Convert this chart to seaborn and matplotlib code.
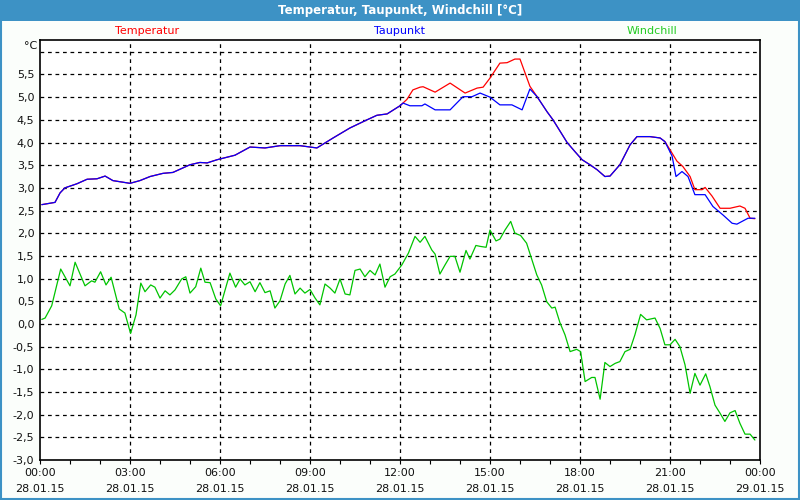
import matplotlib
matplotlib.use("Agg")
import matplotlib.pyplot as plt
import numpy as np
import pandas as pd
import seaborn as sns
from matplotlib.patches import Rectangle

sns.set_theme(style="white")
plt.rcParams['font.family'] = ['DejaVu Sans']

# hours since 28.01.15 00:00
temp_hours = [0.06, 0.5, 0.67, 0.83, 1.23, 1.57, 1.9, 2.17, 2.43, 3.0, 3.33, 3.67, 4.1, 4.43,
              5.0, 5.33, 5.57, 5.9, 6.5, 7.0, 7.5, 8.0, 8.67, 9.23, 9.77, 10.33, 10.9, 11.23,
              11.57, 12.0, 12.1, 12.23, 12.43, 12.67, 12.77, 13.17, 13.67, 14.17, 14.57, 14.77,
              15.0, 15.33, 15.57, 15.83, 16.0, 16.33, 16.57, 16.9, 17.1, 17.57, 17.83, 18.07,
              18.33, 18.57, 18.83, 19.0, 19.33, 19.67, 19.9, 20.33, 20.67, 20.83, 21.0, 21.23,
              21.43, 21.67, 21.83, 22.07, 22.17, 22.4, 22.67, 23.0, 23.33, 23.5, 23.67, 23.83]
temperatur = [2.63, 2.68, 2.89, 3.0, 3.09, 3.19, 3.2, 3.26, 3.16, 3.10, 3.16, 3.25, 3.32, 3.34,
              3.51, 3.56, 3.55, 3.62, 3.72, 3.90, 3.88, 3.93, 3.93, 3.88, 4.10, 4.32, 4.50, 4.60,
              4.63, 4.81, 4.87, 4.95, 5.16, 5.22, 5.23, 5.11, 5.31, 5.09, 5.20, 5.22,
              5.42, 5.75, 5.76, 5.84, 5.84, 5.24, 5.01, 4.68, 4.50, 4.00, 3.80, 3.62,
              3.51, 3.40, 3.25, 3.26, 3.51, 3.95, 4.13, 4.13, 4.10, 4.02, 3.84, 3.59,
              3.47, 3.25, 2.96, 2.96, 3.01, 2.82, 2.55, 2.55, 2.60, 2.55, 2.33, 2.32]

dew_hours = [0.06, 0.5, 0.67, 0.83, 1.23, 1.57, 1.9, 2.17, 2.43, 3.0, 3.33, 3.67, 4.1, 4.43,
             5.0, 5.33, 5.57, 5.9, 6.5, 7.0, 7.5, 8.0, 8.67, 9.23, 9.77, 10.33, 10.9, 11.23,
             11.57, 12.0, 12.1, 12.33, 12.73, 12.83, 13.17, 13.67, 14.1, 14.4, 14.67, 15.0,
             15.33, 15.73, 16.07, 16.33, 16.57, 16.9, 17.1, 17.57, 17.83, 18.07, 18.33, 18.57,
             18.83, 19.0, 19.33, 19.67, 19.9, 20.33, 20.67, 20.83, 21.07, 21.2, 21.4, 21.6,
             21.83, 22.17, 22.43, 22.77, 23.07, 23.23, 23.4, 23.6, 23.83]
taupunkt = [2.63, 2.68, 2.89, 3.0, 3.09, 3.19, 3.2, 3.26, 3.16, 3.10, 3.16, 3.25, 3.32, 3.34,
            3.51, 3.56, 3.55, 3.62, 3.72, 3.90, 3.88, 3.93, 3.93, 3.88, 4.10, 4.32, 4.50, 4.60,
            4.63, 4.81, 4.87, 4.81, 4.81, 4.85, 4.72, 4.72, 5.01, 5.01, 5.09, 5.00,
            4.83, 4.83, 4.72, 5.18, 5.01, 4.68, 4.50, 4.00, 3.80, 3.62, 3.51, 3.40,
            3.25, 3.26, 3.51, 3.95, 4.13, 4.13, 4.10, 4.02, 3.70, 3.25, 3.36, 3.25,
            2.85, 2.85, 2.59, 2.40, 2.22, 2.20, 2.26, 2.33, 2.33]

wind_hours = [0.06, 0.17, 0.39, 0.69, 1.0, 1.17, 1.5, 1.72, 1.83, 2.02, 2.2, 2.37, 2.64, 2.83,
              3.02, 3.2, 3.36, 3.5, 3.69, 3.83, 4.0, 4.17, 4.33, 4.5, 4.72, 4.86, 5.0, 5.19,
              5.36, 5.5, 5.67, 5.86, 6.02, 6.33, 6.52, 6.67, 6.83, 7.0, 7.17, 7.33, 7.5, 7.67,
              7.83, 8.0, 8.17, 8.33, 8.5, 8.67, 8.83, 9.0, 9.17, 9.33, 9.5, 9.67, 9.83, 10.0,
              10.17, 10.33, 10.5, 10.67, 10.83, 11.0, 11.17, 11.33, 11.5, 11.67, 11.83, 12.06,
              12.28, 12.5, 12.67, 12.83, 13.06, 13.17, 13.33, 13.5, 13.67, 13.83, 14.0, 14.2,
              14.33, 14.53, 14.67, 14.87, 15.0, 15.2, 15.33, 15.5, 15.69, 15.83, 16.02, 16.22,
              16.56, 16.72, 16.89, 17.06, 17.17, 17.33, 17.5, 17.67, 17.89, 18.02, 18.17, 18.39,
              18.5, 18.67, 18.83, 19.0, 19.17, 19.33, 19.5, 19.67, 19.83, 20.02, 20.22, 20.5,
              20.67, 20.83, 21.0, 21.17, 21.33, 21.5, 21.67, 21.83, 22.0, 22.19, 22.33, 22.5,
              22.67, 22.83, 23.0, 23.17, 23.33, 23.5, 23.67, 23.83]
windchill = [0.10, 0.13, 0.40, 1.21, 0.84, 1.36, 0.84, 0.95, 0.92, 1.15, 0.86, 1.03, 0.33, 0.24,
             -0.21, 0.20, 0.90, 0.71, 0.86, 0.81, 0.57, 0.73, 0.64, 0.75, 0.99, 1.04, 0.68, 0.82,
             1.23, 0.92, 0.91, 0.55, 0.40, 1.12, 0.81, 0.99, 0.86, 0.93, 0.71, 0.91, 0.69, 0.73,
             0.35, 0.51, 0.88, 1.07, 0.66, 0.79, 0.68, 0.76, 0.57, 0.42, 0.88, 0.79, 0.68, 0.99,
             0.66, 0.64, 1.18, 1.21, 1.04, 1.18, 1.08, 1.32, 0.81, 1.04, 1.10, 1.30,
             1.56, 1.93, 1.80, 1.93, 1.63, 1.54, 1.10, 1.30, 1.49, 1.49, 1.14, 1.62,
             1.43, 1.73, 1.71, 1.69, 2.07, 1.83, 1.87, 2.07, 2.26, 2.00, 1.95, 1.78,
             1.08, 0.86, 0.49, 0.35, 0.37, 0.03, -0.24, -0.61, -0.56, -0.61, -1.27, -1.18,
             -1.18, -1.66, -0.85, -0.94, -0.87, -0.83, -0.61, -0.56, -0.24, 0.21, 0.09, 0.13,
             -0.10, -0.46, -0.46, -0.34, -0.50, -0.90, -1.53, -1.09, -1.35, -1.10, -1.38, -1.79,
             -1.97, -2.15, -1.96, -1.91, -2.19, -2.43, -2.43, -2.56]

xtick_labels = ["00:00\n28.01.15", "03:00\n28.01.15", "06:00\n28.01.15", "09:00\n28.01.15",
                "12:00\n28.01.15", "15:00\n28.01.15", "18:00\n28.01.15", "21:00\n28.01.15",
                "00:00\n29.01.15"]
ytick_values = np.arange(-3.0, 5.51, 0.5)

bar_blue = "#3d92c5"
fig = plt.figure(figsize=(8, 5), dpi=100)
fig.patch.set_facecolor("#fbfefb")
fig.add_artist(Rectangle((0, 0.958), 1, 0.042, transform=fig.transFigure,
                         facecolor=bar_blue, edgecolor="none"))
fig.add_artist(Rectangle((0.001, 0.002), 0.998, 0.996, transform=fig.transFigure,
                         facecolor="none", edgecolor=bar_blue, linewidth=1.5))
fig.text(0.5, 0.979, "Temperatur, Taupunkt, Windchill [°C]", color="white",
         fontsize=8.5, fontweight="bold", ha="center", va="center")

ax = fig.add_axes([0.05, 0.08, 0.9, 0.84])
ax.set_facecolor("white")

sns.lineplot(x=temp_hours, y=temperatur, color="#ff0000", linewidth=0.9, ax=ax)
sns.lineplot(x=dew_hours, y=taupunkt, color="#0000ff", linewidth=0.9, ax=ax)
sns.lineplot(x=wind_hours, y=windchill, color="#00c400", linewidth=0.9, ax=ax)

ax.set_xlim(0, 24)
ax.set_ylim(-3.0, 6.26)
ax.set_xticks(np.arange(0, 25, 3))
ax.set_xticks(np.arange(0, 25, 1), minor=True)
ax.set_xticklabels(xtick_labels, fontsize=8, color="#111111")
for lbl in ax.get_xticklabels():
    lbl.set_linespacing(1.75)
ax.set_yticks(ytick_values)
ax.set_yticklabels([f"{v:.1f}".replace(".", ",") for v in ytick_values], fontsize=8,
                   color="#111111")
ax.tick_params(axis="x", which="both", direction="out", length=3, width=0.8,
               color="black", pad=3, bottom=True)
ax.tick_params(axis="y", length=0, pad=4)

for v in np.arange(-2.5, 6.01, 0.5):
    ax.axhline(v, color="black", linestyle=(0, (3, 3)), linewidth=0.9, zorder=0)
for h in range(3, 24, 3):
    ax.axvline(h, color="black", linestyle=(0, (3, 3)), linewidth=0.9, zorder=0)

for s in ax.spines.values():
    s.set_color("black")
    s.set_linewidth(1.2)

fig.text(37 / 800, 1 - 46 / 500, "°C", fontsize=8, ha="right", va="center", color="#111111")
fig.text(147 / 800, 1 - 31 / 500, "Temperatur", fontsize=8, ha="center", va="center",
         color="#ff0000")
fig.text(399 / 800, 1 - 31 / 500, "Taupunkt", fontsize=8, ha="center", va="center",
         color="#0000ff")
fig.text(652 / 800, 1 - 31 / 500, "Windchill", fontsize=8, ha="center", va="center",
         color="#22cc22")

fig.savefig("out.png", dpi=100, facecolor=fig.get_facecolor())
